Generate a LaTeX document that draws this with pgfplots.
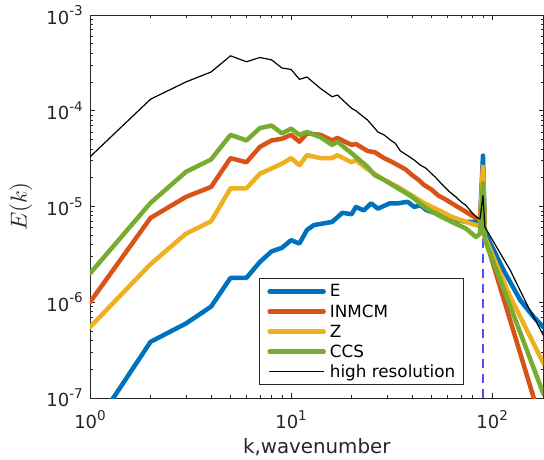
\documentclass[border=0pt]{standalone}
\usepackage{fontspec}
\setmainfont{DejaVu Sans}
\usepackage{graphicx}
\usepackage{pgfplots}
\pgfplotsset{compat=1.18}
\definecolor{axgray}{HTML}{262626}
\definecolor{mBlue}{rgb}{0,0.447,0.741}
\definecolor{mOrange}{rgb}{0.85,0.325,0.098}
\definecolor{mYellow}{rgb}{0.929,0.694,0.125}
\definecolor{mGreen}{rgb}{0.466,0.674,0.188}
\definecolor{dashblue}{RGB}{80,80,255}
\newcommand{\tp}[1]{10\raisebox{8.3pt}{\fontsize{13.5}{13.5}\selectfont #1}}

\begin{document}
\begin{tikzpicture}
\path[use as bounding box] (-90pt,-62pt) rectangle (454pt,398pt);
\begin{axis}[
  scale only axis, width=453.5pt, height=383pt,
  xmode=log, ymode=log,
  xmin=1, xmax=180, ymin=1e-7, ymax=1e-3,
  axis line style={axgray, line width=0.8pt},
  tick style={axgray, line width=0.7pt},
  major tick length=5pt, minor tick length=3pt,
  tick align=inside,
  xtick={1,10,100}, xticklabels={\tp{0},\tp{1},\tp{2}},
  ytick={1e-7,1e-6,1e-5,1e-4,1e-3},
  yticklabels={\tp{-7},\tp{-6},\tp{-5},\tp{-4},\tp{-3}},
  tick label style={font=\fontsize{18}{18}\selectfont, text=axgray, inner sep=0pt},
  xticklabel style={anchor=north, yshift=-12pt},
  yticklabel style={anchor=east, xshift=-7pt},
  xlabel={k,wavenumber},
  xlabel style={font=\fontsize{19.8}{20}\selectfont, text=axgray,
    at={(axis description cs:0.5,0)}, anchor=base, yshift=-55.3pt, inner sep=0pt},
  ylabel={\scalebox{2.3}{$E(k)$}},
  ylabel style={text=axgray, rotate=0,
    at={(axis description cs:-0.1526,0.5)}, anchor=center, inner sep=0pt},
  legend cell align=left,
  legend image code/.code={\draw[#1] (0pt,0pt) -- (54pt,0pt);},
  legend style={at={(axis description cs:0.3733,0.3125)}, anchor=north west,
    draw=axgray, line width=0.8pt, fill=white,
    font=\fontsize{16.8}{17}\selectfont,
    inner xsep=7.7pt, inner ysep=2.5pt, row sep=0pt,
    nodes={inner sep=0pt, text height=15.7pt, text depth=4.45pt},
    /tikz/every odd column/.append style={column sep=4pt}},
  every axis plot/.append style={line join=round, line cap=round},
]
\addplot[forget plot, dashblue, line width=1.3pt, dash pattern=on 9pt off 6pt, line cap=butt]
  coordinates {(90,1e-7) (90,5.5e-6)};

\addplot[mBlue, line width=4.5pt] coordinates {
(1,4.3e-8) (2,3.86e-7) (3,6.0e-7) (4,9.0e-7) (5,1.8e-6) (6,1.8e-6) (7,2.64e-6) (8,3.4e-6)
(9,3.7e-6) (10,4.45e-6) (11,4.1e-6) (12,5.7e-6) (13,6.4e-6) (16,6.9e-6) (18,8.6e-6)
(20,8.3e-6) (21,9.9e-6) (23,9.1e-6) (25,1.08e-5) (27,9.5e-6) (31,1.08e-5) (34,1.08e-5)
(38,1.12e-5) (41,9.9e-6) (44,1.03e-5) (47,9.2e-6) (54,8.3e-6) (63,7.5e-6) (74,6.9e-6)
(83,6.9e-6) (87,6.8e-6) (90,3.4e-5) (92,5.4e-6) (114,2.16e-6) (138,1.05e-6) (161,7.0e-7)
(180,5.5e-7)};
\addlegendentry{E}

\addplot[mOrange, line width=4.5pt] coordinates {
(1,1.0e-6) (2,7.6e-6) (3,1.26e-5) (4,1.6e-5) (5,3.2e-5) (6,2.9e-5) (7,4.2e-5) (8,4.9e-5)
(9,5.1e-5) (10,5.6e-5) (11,4.75e-5) (12,5.8e-5) (14,5.6e-5) (16,4.9e-5) (17,5.2e-5)
(20,4.4e-5) (21,4.5e-5) (24,3.8e-5) (26,3.7e-5) (29,3.2e-5) (31,3.0e-5) (34,2.7e-5)
(37,2.45e-5) (40,2.13e-5) (43,1.9e-5) (46,1.67e-5) (50,1.5e-5) (54,1.3e-5) (58,1.2e-5)
(63,1.08e-5) (68,9.8e-6) (74,8.8e-6) (78,8.2e-6) (83,7.6e-6) (87,7.4e-6) (90,2.5e-5)
(92,4.8e-6) (161,1.0e-7) (180,4.7e-8)};
\addlegendentry{INMCM}

\addplot[mYellow, line width=4.5pt] coordinates {
(1,5.5e-7) (2,2.5e-6) (3,5.2e-6) (4,7.0e-6) (5,1.55e-5) (6,1.55e-5) (7,2.2e-5) (8,2.5e-5)
(9,2.8e-5) (10,3.2e-5) (11,2.7e-5) (12,3.44e-5) (14,3.2e-5) (16,3.2e-5) (17,3.44e-5)
(20,2.9e-5) (21,3.05e-5) (24,2.45e-5) (26,2.2e-5) (29,1.9e-5) (34,1.6e-5) (40,1.3e-5)
(46,1.08e-5) (54,9.2e-6) (63,7.8e-6) (74,6.9e-6) (83,6.4e-6) (87,6.2e-6) (90,2.6e-5)
(92,4.8e-6) (123,1.14e-6) (180,2.3e-7)};
\addlegendentry{Z}

\addplot[mGreen, line width=4.5pt] coordinates {
(1,2.0e-6) (2,1.09e-5) (3,2.3e-5) (4,3.1e-5) (5,5.6e-5) (6,4.9e-5) (7,6.6e-5) (8,7.0e-5)
(9,5.8e-5) (10,6.5e-5) (11,5.6e-5) (12,6.0e-5) (14,5.3e-5) (16,4.4e-5) (17,4.75e-5)
(20,3.6e-5) (21,3.3e-5) (24,2.6e-5) (26,2.13e-5) (29,1.9e-5) (34,1.55e-5) (40,1.26e-5)
(46,9.9e-6) (54,8.1e-6) (63,6.9e-6) (74,5.9e-6) (83,4.8e-6) (87,5.2e-6) (90,1.75e-5)
(92,4.5e-6) (138,4.8e-7) (180,1.1e-7)};
\addlegendentry{CCS}

\addplot[black, line width=1.2pt] coordinates {
(1,3.3e-5) (2,1.32e-4) (3,2.0e-4) (4,2.54e-4) (5,3.75e-4) (6,3.25e-4) (7,3.6e-4) (8,3.4e-4)
(9,2.8e-4) (10,2.7e-4) (11,2.13e-4) (12,2.25e-4) (14,1.71e-4) (16,1.4e-4) (17,1.46e-4)
(20,1.06e-4) (21,1.0e-4) (24,8.0e-5) (26,6.6e-5) (27,6.0e-5) (29,5.6e-5) (31,5.0e-5)
(33,4.56e-5) (35,3.8e-5) (38,3.4e-5) (41,3.05e-5) (44,2.7e-5) (47,2.5e-5) (50,2.2e-5)
(52,2.04e-5) (55,1.8e-5) (58,1.6e-5) (62,1.4e-5) (66,1.26e-5) (70,1.12e-5) (74,1.03e-5)
(78,9.0e-6) (83,7.8e-6) (87,7.4e-6) (90,1.3e-5) (92,6.1e-6) (123,2.16e-6) (150,9.2e-7)
(180,4.5e-7)};
\addlegendentry{high resolution}
\end{axis}
\end{tikzpicture}
\end{document}
